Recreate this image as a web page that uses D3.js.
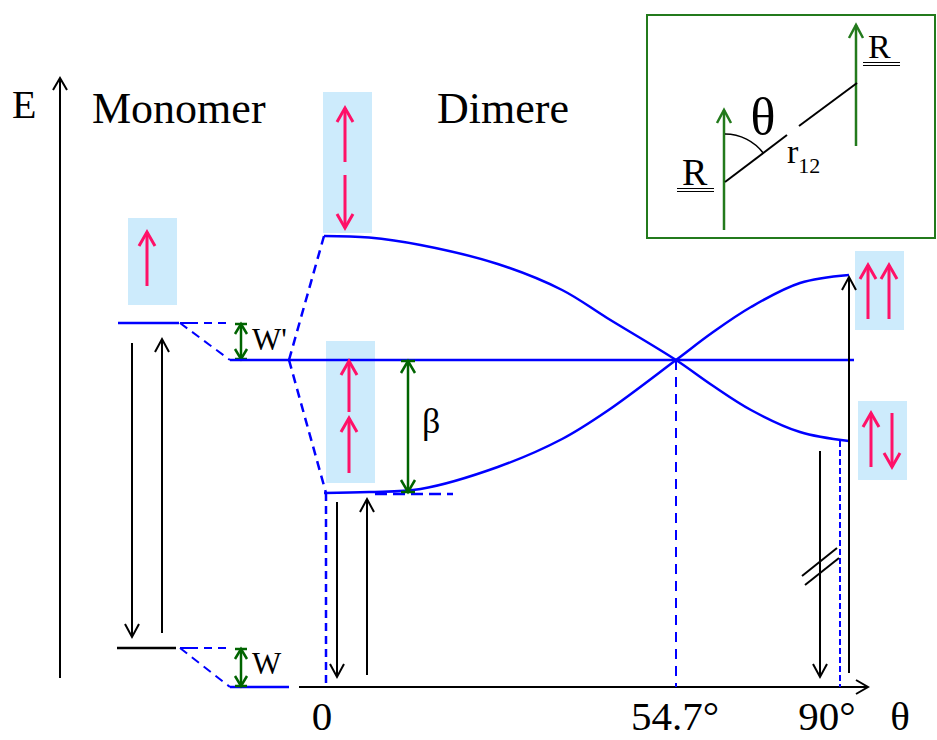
<!DOCTYPE html>
<html><head><meta charset="utf-8">
<script src="https://cdn.jsdelivr.net/npm/d3@7"></script>
<style>
html,body{margin:0;padding:0;background:#fff;}
svg{display:block;}
</style></head><body>
<svg id="chart" width="937" height="740"></svg>
<script>
// Energies in arbitrary units (0 = dimer ground state)
const monomerGround = 3.9;
const monomerExcited = 36.4;
const dimerGround = 0;
const dimerExcited = 32.7;

// Angle θ between transition dipoles and the intermolecular axis (degrees)
const thetaSamples = [0, 7, 15, 27, 37, 44, 54.7, 62, 70, 80, 90];
// Exciton branch energies along θ
const branchTop    = [45.1, 44.95, 44.2, 42.3, 39.7, 36.9, 32.7, 30.2, 27.7, 25.5, 24.6];
const branchBottom = [19.4, 19.5, 19.8, 22.0, 24.8, 27.6, 32.7, 35.4, 38.0, 40.4, 41.2];

const thetaTicks = [0, 54.7, 90];
const thetaTickLabels = ["0", "54.7°", "90°"];

const SERIF = "Times New Roman, Times, Liberation Serif, Tinos, Noto Serif, DejaVu Serif, FreeSerif, serif";
const BLUE = "#0000ff", PINK = "#ff1168", BOX = "#cdebfc",
      GREEN = "#006400", INSET_GREEN = "#237a1c";

const svg = d3.select("#chart");
const x = d3.scaleLinear().domain([0, 54.7, 90]).range([324, 676, 849]);
const y = d3.scaleLinear().domain([0, 10]).range([687, 587]);

// generic arrow: shaft from (x1,y1) to (x2,y2), open head at the end
function arrow(g, x1, y1, x2, y2, o) {
  const c = o.color || "#000", w = o.width || 2, hw = o.hw || 7, hl = o.hl || 12;
  g.append("line").attr("x1", x1).attr("y1", y1).attr("x2", x2).attr("y2", y2)
    .attr("stroke", c).attr("stroke-width", w);
  const ends = o.both ? [[x1, y1, x2, y2], [x2, y2, x1, y1]] : [[x1, y1, x2, y2]];
  ends.forEach(([ax, ay, bx, by]) => {
    const L = Math.hypot(bx - ax, by - ay), ux = (bx - ax) / L, uy = (by - ay) / L;
    const px = -uy, py = ux;
    const pts = [[bx - ux * hl + px * hw, by - uy * hl + py * hw], [bx, by],
                 [bx - ux * hl - px * hw, by - uy * hl - py * hw]];
    g.append("polyline").attr("points", pts.map(p => p.join(",")).join(" "))
      .attr("fill", "none").attr("stroke", c).attr("stroke-width", w)
      .attr("stroke-linejoin", "miter");
    if (o.bar) {
      g.append("line").attr("x1", bx + px * hw).attr("y1", by + py * hw)
        .attr("x2", bx - px * hw).attr("y2", by - py * hw)
        .attr("stroke", c).attr("stroke-width", w);
    }
  });
}
function line(g, x1, y1, x2, y2, color, w, dash) {
  const l = g.append("line").attr("x1", x1).attr("y1", y1).attr("x2", x2).attr("y2", y2)
    .attr("stroke", color).attr("stroke-width", w);
  if (dash) l.attr("stroke-dasharray", dash);
  return l;
}
function text(g, s, tx, ty, size, anchor) {
  return g.append("text").attr("x", tx).attr("y", ty)
    .style("font-family", SERIF).style("font-size", size + "px")
    .attr("text-anchor", anchor || "start").attr("fill", "#000").text(s);
}

const bg = svg.append("g");   // spin-configuration boxes
const g = svg.append("g");

// ---------- spin configuration boxes ----------
function spinBox(bx, by, bw, bh) {
  bg.append("rect").attr("x", bx).attr("y", by).attr("width", bw).attr("height", bh).attr("fill", BOX);
}
const pinkArrow = (x1, y1, x2, y2) => arrow(g, x1, y1, x2, y2, {color: PINK, width: 3, hw: 8, hl: 14});

spinBox(128, 218, 49, 87);
spinBox(323, 92, 49, 141);
spinBox(326, 341, 49, 142);
spinBox(855, 251, 49, 79);
spinBox(858, 401, 49, 79);

// ---------- energy axis ----------
arrow(g, 60, 678, 60, 78, {width: 2, hw: 7, hl: 12});
text(g, "E", 12, 118, 40);
text(g, "Monomer", 92, 123, 44);
text(g, "Dimere", 437, 123, 44);

// ---------- θ axis ----------
arrow(g, 299, y(dimerGround), 868, y(dimerGround), {width: 2, hw: 7, hl: 12});
const labelShift = [-2, -1, -22];
thetaTicks.forEach((t, i) =>
  text(g, thetaTickLabels[i], x(t) + labelShift[i], 730, 41, "middle"));
text(g, "θ", 900, 730, 41, "middle");

// ---------- monomer levels ----------
const mx0 = 118, mx1 = 179, dx0 = 230, dx1 = 289;
line(g, mx0, y(monomerExcited), mx1, y(monomerExcited), BLUE, 2.5);
line(g, mx0 - 1, y(monomerGround), mx1 - 3, y(monomerGround), "#000", 2.5);
// solvent shifts W' and W
line(g, mx1 + 1, y(monomerExcited), 226, y(monomerExcited), BLUE, 2, "18,6,8,6");
line(g, mx1 + 1, y(monomerExcited), dx0, y(dimerExcited), BLUE, 2, "9,6");
line(g, mx1 + 1, y(monomerGround), 226, y(monomerGround), BLUE, 2, "18,6,8,6");
line(g, mx1 + 1, y(monomerGround), dx0, y(dimerGround), BLUE, 2, "9,6");
line(g, dx0, y(dimerGround), dx1, y(dimerGround), BLUE, 2.5);
arrow(g, 241, y(monomerExcited) + 1, 241, y(dimerExcited) - 1, {color: GREEN, width: 2.5, hw: 6, hl: 10, both: true, bar: true});
arrow(g, 241, y(monomerGround) + 1, 241, y(dimerGround) - 1, {color: GREEN, width: 2.5, hw: 6, hl: 10, both: true, bar: true});
text(g, "W'", 252, 350, 31);
text(g, "W", 252, 674, 31);

// monomer absorption / emission
arrow(g, 132, y(monomerExcited) + 20, 132, y(monomerGround) - 11, {width: 2, hw: 7, hl: 13});
arrow(g, 162, y(monomerGround) - 15, 162, y(monomerExcited) + 16, {width: 2, hw: 7, hl: 13});
pinkArrow(147, 286, 147, 232);

// ---------- dimer: exciton splitting ----------
line(g, dx0, y(dimerExcited), x(90) + 5, y(dimerExcited), BLUE, 2.5);
line(g, dx1, y(dimerExcited), x(0), y(branchTop[0]), BLUE, 2.5, "9,6");
line(g, dx1, y(dimerExcited), x(0) + 2, y(branchBottom[0]), BLUE, 2.5, "9,6");

const curve = d3.line().x(d => x(d[0])).y(d => y(d[1])).curve(d3.curveCatmullRom.alpha(0.5));
g.append("path").attr("d", curve(thetaSamples.map((t, i) => [t, branchTop[i]])))
  .attr("fill", "none").attr("stroke", BLUE).attr("stroke-width", 2.5);
g.append("path").attr("d", curve(thetaSamples.map((t, i) => [t, branchBottom[i]])))
  .attr("fill", "none").attr("stroke", BLUE).attr("stroke-width", 2.5);

// drop lines at θ = 0, 54.7°, 90°
line(g, x(0) + 2, y(branchBottom[0]), x(0) + 2, y(dimerGround), BLUE, 2.5, "8,5");
line(g, 375, y(branchBottom[0]) + 1, 453, y(branchBottom[0]) + 1, BLUE, 2.5, "12,6");
line(g, x(54.7), y(dimerExcited), x(54.7), y(dimerGround), BLUE, 2, "10,7");
line(g, x(90) - 9, y(branchTop[10]), x(90) - 9, y(dimerGround), BLUE, 2, "6,3");

// β
arrow(g, 408, y(dimerExcited) + 1, 408, y(branchBottom[0]) - 1, {color: GREEN, width: 2.5, hw: 7, hl: 12, both: true, bar: true});
text(g, "β", 422, 433, 36);

// transitions at θ = 0
arrow(g, x(0) + 13, 502, x(0) + 13, y(dimerGround) - 10, {width: 2, hw: 7, hl: 13});
arrow(g, x(0) + 43, y(dimerGround) - 12, x(0) + 43, y(branchBottom[0]) + 6, {width: 2, hw: 7, hl: 13});

// transitions at θ = 90°
arrow(g, x(90) - 29, y(branchTop[10]) + 10, x(90) - 29, y(dimerGround) - 10, {width: 2, hw: 7, hl: 13});
arrow(g, x(90), y(dimerGround) - 14, x(90), y(branchBottom[10]) + 2, {width: 2, hw: 7, hl: 13});
line(g, 802, 576, 837, 548, "#000", 2);
line(g, 805, 585, 839, 558, "#000", 2);

// spin configurations
pinkArrow(345, 162, 345, 108);
pinkArrow(345, 175, 345, 228);
pinkArrow(349, 412, 349, 361);
pinkArrow(349, 473, 349, 418);
pinkArrow(868, 319, 868, 265);
pinkArrow(889, 319, 889, 265);
pinkArrow(871, 467, 871, 413);
pinkArrow(892, 413, 892, 467);

// ---------- inset: dimer geometry ----------
const inset = svg.append("g");
inset.append("rect").attr("x", 647).attr("y", 15).attr("width", 288).attr("height", 223)
  .attr("fill", "none").attr("stroke", INSET_GREEN).attr("stroke-width", 2);
arrow(inset, 724, 230, 724, 110, {color: INSET_GREEN, width: 2.5, hw: 7, hl: 13});
arrow(inset, 856, 146, 856, 25, {color: INSET_GREEN, width: 2.5, hw: 7, hl: 13});
line(inset, 725, 182, 787, 135, "#000", 2);
line(inset, 799, 126, 857, 83, "#000", 2);
// angle arc
const ax = 725, ay = 182, r = 48, a1 = Math.atan2(132, 99);
inset.append("path")
  .attr("d", `M${ax},${ay - r} A${r},${r} 0 0 1 ${ax + r * Math.sin(a1)},${ay - r * Math.cos(a1)}`)
  .attr("fill", "none").attr("stroke", "#000").attr("stroke-width", 1.5);
text(inset, "θ", 763, 134, 52, "middle");
text(inset, "R", 682, 185, 38);
line(inset, 677, 188.5, 714, 188.5, "#000", 1.2);
line(inset, 677, 191.5, 714, 191.5, "#000", 1.2);
text(inset, "R", 868, 58, 34);
line(inset, 863, 62.5, 900, 62.5, "#000", 1.2);
line(inset, 863, 65.5, 900, 65.5, "#000", 1.2);
const rt = text(inset, "", 787, 163, 34);
rt.append("tspan").text("r");
rt.append("tspan").style("font-size", "22px").attr("dy", 10).text("12");
</script>
</body></html>
